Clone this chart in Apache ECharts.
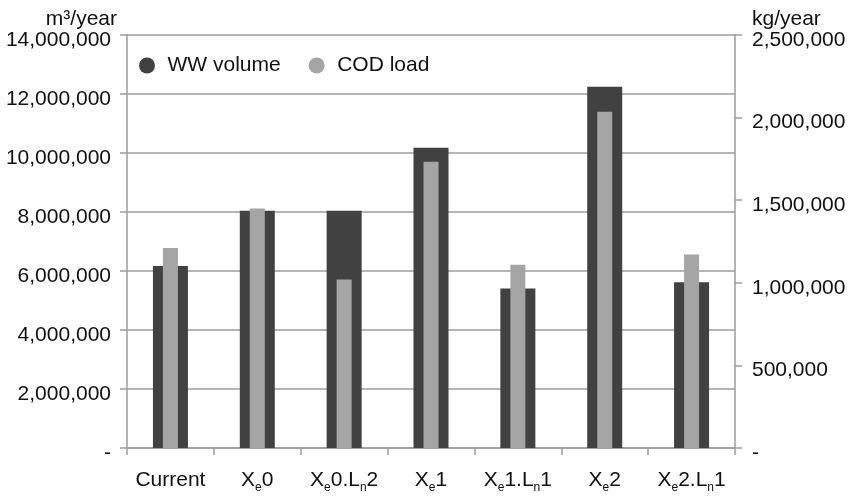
<!DOCTYPE html>
<html>
<head>
<meta charset="utf-8">
<script src="https://cdn.jsdelivr.net/npm/echarts@6/dist/echarts.min.js"></script>
<style>
html,body{margin:0;padding:0;background:#fff;}
#chart{width:851px;height:499px;}
</style>
</head>
<body>
<div id="chart"></div>
<script>
var categories = ['Current', 'X_e0', 'X_e0.L_n2', 'X_e1', 'X_e1.L_n1', 'X_e2', 'X_e2.L_n1'];
var wwVolume = [6170000, 8040000, 8040000, 10180000, 5410000, 12250000, 5620000];
var codLoad = [1210000, 1450000, 1020000, 1733000, 1110000, 2036000, 1172000];
var leftTicks = {min: 0, max: 14000000, interval: 2000000};
var rightTicks = {min: 0, max: 2500000, interval: 500000};

var FONT = 'Liberation Sans, Arial, sans-serif';
var TXT = '#111';
var GRID_C = '#9c9c9c';
var FS = 21;

function fmtNum(v) {
  if (v === 0) return '-';
  return v.toLocaleString('en-US');
}

var chart = echarts.init(document.getElementById('chart'), null, {renderer: 'canvas'});
chart.setOption({
  animation: false,
  backgroundColor: '#fff',
  textStyle: {fontFamily: FONT},
  legend: {
    left: 134,
    top: 50,
    icon: 'circle',
    itemWidth: 25,
    itemHeight: 16,
    itemGap: 28,
    textStyle: {fontSize: FS, color: TXT, fontFamily: FONT, padding: [0, 0, 0, 3]},
    data: ['WW volume', 'COD load']
  },
  grid: {left: 127, right: 116, top: 35, bottom: 51, containLabel: false},
  xAxis: [{
    type: 'category',
    data: categories,
    boundaryGap: true,
    axisLine: {show: true, lineStyle: {color: GRID_C, width: 1.5}},
    axisTick: {show: true, length: 7, lineStyle: {color: GRID_C, width: 1.5}},
    axisLabel: {
      margin: 18,
      fontSize: FS,
      lineHeight: 28,
      color: TXT,
      fontFamily: FONT,
      interval: 0,
      formatter: function (v) { return v.replace(/_(\w)/g, '{s|$1}'); },
      rich: {
        s: {fontSize: 12, lineHeight: 12, padding: [16, 0, 0, 0], color: TXT, fontFamily: FONT}
      }
    }
  }, {
    type: 'category',
    data: categories,
    show: false
  }],
  yAxis: [{
    type: 'value',
    min: leftTicks.min, max: leftTicks.max, interval: leftTicks.interval,
    name: 'm³/year',
    nameLocation: 'end',
    nameGap: 6,
    nameTextStyle: {fontSize: FS, color: TXT, fontFamily: FONT, align: 'right', padding: [0, 10, 0, 0], lineHeight: 20},
    axisLine: {show: true, lineStyle: {color: GRID_C, width: 1.5}},
    axisTick: {show: true, length: 7, lineStyle: {color: GRID_C, width: 1.5}},
    splitLine: {show: true, lineStyle: {color: GRID_C, width: 1.5}},
    axisLabel: {margin: 16, fontSize: FS, color: TXT, fontFamily: FONT, verticalAlign: 'top', lineHeight: 10, formatter: fmtNum}
  }, {
    type: 'value',
    position: 'right',
    min: rightTicks.min, max: rightTicks.max, interval: rightTicks.interval,
    name: 'kg/year',
    nameLocation: 'end',
    nameGap: 6,
    nameTextStyle: {fontSize: FS, color: TXT, fontFamily: FONT, align: 'left', padding: [0, 0, 0, 17], lineHeight: 20},
    axisLine: {show: true, lineStyle: {color: GRID_C, width: 1.5}},
    axisTick: {show: true, length: 7, lineStyle: {color: GRID_C, width: 1.5}},
    splitLine: {show: false},
    axisLabel: {margin: 17, fontSize: FS, color: TXT, fontFamily: FONT, verticalAlign: 'top', lineHeight: 10, formatter: fmtNum}
  }],
  series: [{
    name: 'WW volume',
    type: 'bar',
    xAxisIndex: 0,
    yAxisIndex: 0,
    barWidth: 35,
    itemStyle: {color: '#414141'},
    data: wwVolume
  }, {
    name: 'COD load',
    type: 'bar',
    xAxisIndex: 1,
    yAxisIndex: 1,
    barWidth: 15,
    itemStyle: {color: '#a5a5a5'},
    data: codLoad
  }]
});
</script>
</body>
</html>
